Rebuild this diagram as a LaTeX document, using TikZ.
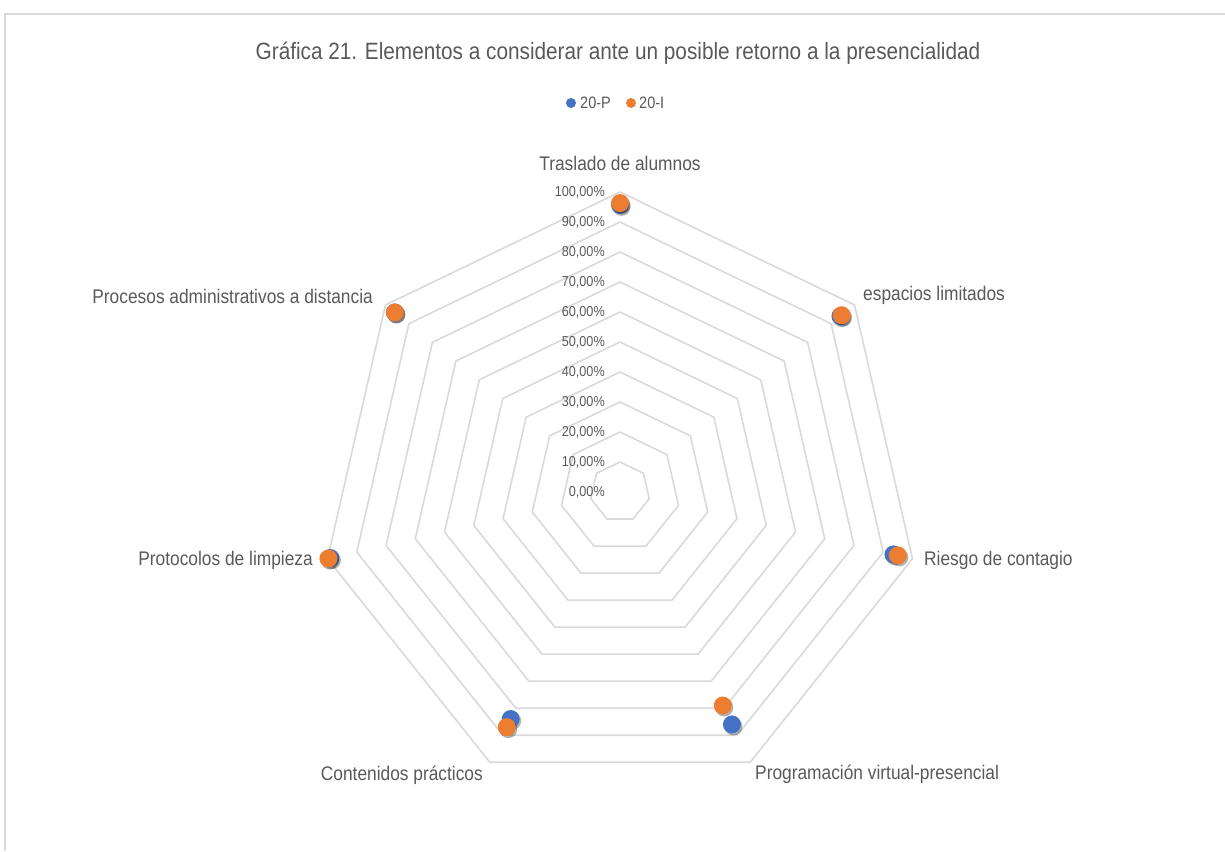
\documentclass[tikz,border=0pt]{standalone}
\usepackage{fontspec}
\setmainfont{Liberation Sans}[FakeStretch=0.88]
\usetikzlibrary{calc,positioning}
\definecolor{txtgray}{HTML}{595959}
\definecolor{gridgray}{HTML}{D9D9D9}
\definecolor{serP}{HTML}{4472C4}
\definecolor{serI}{HTML}{ED7D31}
\tikzset{
  axislabel/.style={text=txtgray, font=\fontsize{19.7}{22}\selectfont, inner sep=0pt},
  ticklabel/.style={text=txtgray, font=\fontsize{14.4}{16}\selectfont, anchor=east, inner sep=0pt},
  legtext/.style={text=txtgray, font=\fontsize{16.5}{19}\selectfont, inner sep=0pt},
  ring/.style={draw=gridgray, line width=1.6pt, line join=round},
  dotP/.style={circle, fill=serP, minimum size=18pt, inner sep=0pt},
  dotI/.style={circle, fill=serI, minimum size=18pt, inner sep=0pt},
  dotshadow/.style={black, opacity=0.3}
}
\begin{document}
\begin{tikzpicture}[x=1pt, y=1pt]
    \useasboundingbox (0,0) rectangle (1225,851);
    % marco del grafico
    \draw[gridgray, line width=2pt] (5,0) -- (5,837) -- (1225,837);

    % titulo y leyenda
    \node[text=txtgray, font=\fontsize{23.6}{26}\selectfont, inner sep=0pt] (title) at (618,798)
        {Gráfica 21. Elementos a considerar ante un posible retorno a la presencialidad};
    \node[circle, fill=serP, minimum size=10pt, inner sep=0pt] (legP) at (571,748) {};
    \node[right=9pt of legP.center, legtext] (legPtxt) {20-P};
    \node[circle, fill=serI, minimum size=10pt, inner sep=0pt] (legI) at (631,748) {};
    \node[right=8pt of legI.center, legtext] (legItxt) {20-I};

    \begin{scope}[shift={(620,359)}]
        \coordinate (O) at (0,0);
        % anillos 10% ... 100%
        \foreach \i in {1,...,10}
            \draw[ring] (90:30*\i) \foreach \k in {1,...,6} { -- (90-\k*360/7:30*\i) } -- cycle;
        % etiquetas de la escala
        \foreach \i in {0,...,10} {
            \pgfmathtruncatemacro\pct{10*\i}
            \node[ticklabel] (t\i) at (-15,30*\i) {\pct,00\%};
        }
        % etiquetas de los ejes
        \node[axislabel] (lblTraslado) at (0,329) {Traslado de alumnos};
        \node[axislabel, anchor=west] (lblEspacios) at (243,197) {espacios limitados};
        \node[axislabel, anchor=west] (lblRiesgo) at (304,-68) {Riesgo de contagio};
        \node[axislabel, anchor=west] (lblProgram) at (135,-282) {Programación virtual-presencial};
        \node[axislabel, anchor=east] (lblContenidos) at (-137,-283) {Contenidos prácticos};
        \node[axislabel, anchor=east] (lblProtocolos) at (-307,-68) {Protocolos de limpieza};
        \node[axislabel, anchor=east] (lblProcesos) at (-247,196) {Procesos administrativos a distancia};

        % serie 20-P
        \foreach \v [count=\k from 0] in {95.7,94,93.5,86,84,99,96} {
            \fill[dotshadow] ($(90-\k*360/7:3*\v)+(1.5,-2)$) circle (9);
            \node[dotP] (p\k) at (90-\k*360/7:3*\v) {};
        }
        % serie 20-I
        \foreach \v [count=\k from 0] in {96.3,94.5,95,79,87,99.7,96} {
            \fill[dotshadow] ($(90-\k*360/7:3*\v)+(1.5,-2)$) circle (9);
            \node[dotI] (i\k) at (90-\k*360/7:3*\v) {};
        }
    \end{scope}
\end{tikzpicture}
\end{document}
